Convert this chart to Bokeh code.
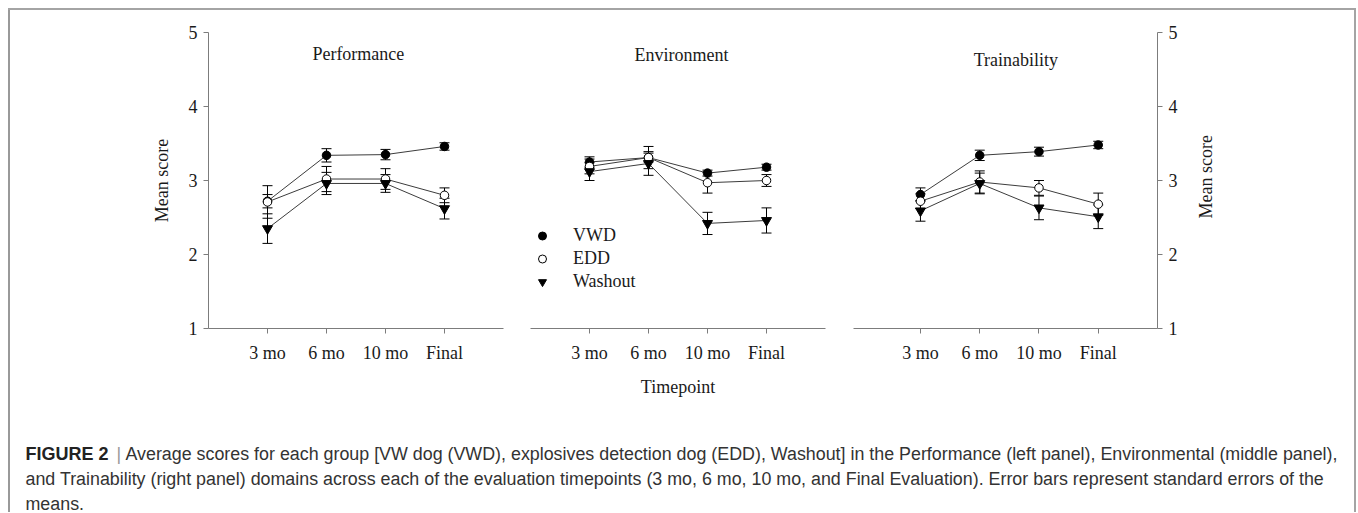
import math
from bokeh.plotting import figure
from bokeh.models import (ColumnDataSource, Whisker, TeeHead, Range1d, FixedTicker,
                          Label, Legend, LegendItem)
from bokeh.layouts import row, column
from bokeh.embed import file_html
from bokeh.resources import INLINE

# ---------------- data ----------------
timepoints = ["3 mo", "6 mo", "10 mo", "Final"]
tick_pos = [1, 2, 3, 4]
y_ticks = [1, 2, 3, 4, 5]
groups = ["VWD", "EDD", "Washout"]
panel_titles = ["Performance", "Environment", "Trainability"]

perf_vwd = [2.72, 3.34, 3.35, 3.46]
perf_vwd_se = [0.09, 0.09, 0.07, 0.05]
perf_edd = [2.71, 3.02, 3.02, 2.80]
perf_edd_se = [0.22, 0.17, 0.14, 0.10]
perf_wash = [2.35, 2.96, 2.96, 2.62]
perf_wash_se = [0.20, 0.15, 0.12, 0.14]

env_vwd = [3.25, 3.31, 3.10, 3.18]
env_vwd_se = [0.07, 0.06, 0.04, 0.04]
env_edd = [3.19, 3.31, 2.97, 3.00]
env_edd_se = [0.10, 0.15, 0.14, 0.08]
env_wash = [3.12, 3.23, 2.42, 2.46]
env_wash_se = [0.12, 0.16, 0.15, 0.17]

train_vwd = [2.81, 3.34, 3.39, 3.48]
train_vwd_se = [0.09, 0.07, 0.06, 0.05]
train_edd = [2.72, 2.98, 2.90, 2.68]
train_edd_se = [0.10, 0.15, 0.10, 0.15]
train_wash = [2.59, 2.96, 2.63, 2.51]
train_wash_se = [0.14, 0.14, 0.16, 0.16]

y_label = "Mean score"
x_label = "Timepoint"

cap_bold = "FIGURE 2"
cap_bar = "|"
cap_line1 = ("Average scores for each group [VW dog (VWD), explosives detection dog (EDD), "
             "Washout] in the Performance (left panel), Environmental (middle panel),")
cap_line2 = ("and Trainability (right panel) domains across each of the evaluation timepoints "
             "(3 mo, 6 mo, 10 mo, and Final Evaluation). Error bars represent standard errors of the")
cap_line3 = "means."

# ---------------- style ----------------
SERIF = "Liberation Serif"
SANS = "Liberation Sans"
AX = "#7c7c7c"
TXT = "#1a1a1a"
LINE = "#3c3c3c"
FS = "18px"
ROW_H = 400


def series(p, vals, se, kind):
    src = ColumnDataSource(dict(x=tick_pos, y=vals,
                                upper=[v + s for v, s in zip(vals, se)],
                                lower=[v - s for v, s in zip(vals, se)]))
    p.line("x", "y", source=src, line_color=LINE, line_width=1)
    w = Whisker(base="x", upper="upper", lower="lower", source=src,
                line_color="black", line_width=1, level="underlay",
                upper_head=TeeHead(size=10, line_color="black", line_width=1),
                lower_head=TeeHead(size=10, line_color="black", line_width=1))
    p.add_layout(w)
    if kind == "VWD":
        r = p.scatter("x", "y", source=src, marker="circle", size=8.5,
                      fill_color="black", line_color="black")
    elif kind == "EDD":
        r = p.scatter("x", "y", source=src, marker="circle", size=8.5,
                      fill_color="white", line_color="black", line_width=1)
    else:
        r = p.scatter("x", "y", source=src, marker="inverted_triangle", size=10,
                      fill_color="black", line_color="black")
    return r


def make_panel(title, tx, ty, data, width, mbl, mbr, x_start, yloc, xlab=None, ylab=True):
    p = figure(width=width, height=ROW_H, x_range=Range1d(x_start, 5), y_range=Range1d(1, 5),
               output_backend="svg", toolbar_location=None, y_axis_location=yloc,
               min_border_left=mbl, min_border_right=mbr, min_border_top=32,
               min_border_bottom=72, border_fill_color=None, background_fill_color=None,
               outline_line_color=None)
    p.grid.visible = False
    p.xaxis.ticker = FixedTicker(ticks=tick_pos)
    p.xaxis.major_label_overrides = {t: lab for t, lab in zip(tick_pos, timepoints)}
    p.xaxis.major_label_standoff = 9
    if xlab:
        p.xaxis.axis_label = xlab
        p.xaxis.axis_label_standoff = 11
    if yloc is not None:
        p.yaxis.ticker = FixedTicker(ticks=y_ticks)
        p.yaxis.major_label_standoff = 6
        if ylab:
            p.yaxis.axis_label = y_label
            p.yaxis.axis_label_standoff = 14
    for ax in p.axis:
        ax.axis_line_color = AX
        ax.axis_line_width = 1
        ax.major_tick_line_color = AX
        ax.major_tick_out = 5
        ax.major_tick_in = 0
        ax.minor_tick_line_color = None
        ax.major_label_text_font = SERIF
        ax.major_label_text_font_size = FS
        ax.major_label_text_color = TXT
        ax.axis_label_text_font = SERIF
        ax.axis_label_text_font_size = FS
        ax.axis_label_text_font_style = "normal"
        ax.axis_label_text_color = TXT
    rends = []
    for vals, se, g in data:
        rends.append(series(p, vals, se, g))
    p.add_layout(Label(x=tx, y=ty, text=title, text_font=SERIF, text_font_size=FS,
                       text_color=TXT, text_align="center", text_baseline="alphabetic"))
    return p, rends


p1, _ = make_panel(panel_titles[0], 2.54, 4.716,
                   [(perf_vwd, perf_vwd_se, "VWD"), (perf_edd, perf_edd_se, "EDD"),
                    (perf_wash, perf_wash_se, "Washout")],
                   518, 208, 15, 0, "left")
p2, r2 = make_panel(panel_titles[1], 2.56, 4.69,
                    [(env_vwd, env_vwd_se, "VWD"), (env_edd, env_edd_se, "EDD"),
                     (env_wash, env_wash_se, "Washout")],
                    325, 12, 18, 0, None, xlab=x_label)
p3, _ = make_panel(panel_titles[2], 2.61, 4.63,
                   [(train_vwd, train_vwd_se, "VWD"), (train_edd, train_edd_se, "EDD"),
                    (train_wash, train_wash_se, "Washout")],
                   340, 10, 26, -0.13, "right", ylab=False)

# narrow strip carrying the right-hand axis title (reads bottom-to-top like the left one)
STRIP_W = 1356 - 518 - 325 - 340
p4 = figure(width=STRIP_W, height=ROW_H, x_range=Range1d(0, STRIP_W), y_range=Range1d(ROW_H, 0),
            output_backend="svg", toolbar_location=None, x_axis_location=None,
            y_axis_location=None, min_border=0, border_fill_color=None,
            background_fill_color=None, outline_line_color=None)
p4.grid.visible = False
p4.add_layout(Label(x=22, y=195, text=y_label, angle=math.pi / 2, angle_units="rad",
                    text_font=SERIF, text_font_size=FS, text_color=TXT,
                    text_align="center", text_baseline="middle"))

legend = Legend(items=[LegendItem(label=g, renderers=[r]) for g, r in zip(groups, r2)],
                location=(2, 35), orientation="vertical", border_line_color=None,
                background_fill_alpha=0, label_text_font=SERIF, label_text_font_size=FS,
                label_text_color=TXT, glyph_width=20, glyph_height=23, label_height=23,
                spacing=0, padding=0, margin=0, label_standoff=21)
p2.add_layout(legend, "center")

# ---------------- caption ----------------
CAP_W = 1356
CAP_H = 112
cap = figure(width=CAP_W, height=CAP_H, x_range=Range1d(0, CAP_W), y_range=Range1d(CAP_H, 0),
             output_backend="svg", toolbar_location=None, x_axis_location=None,
             y_axis_location=None, min_border=0, border_fill_color=None,
             background_fill_color=None, outline_line_color=None)
cap.grid.visible = False
CAP_FS = "17.85px"
cap_style = dict(text_font=SANS, text_font_size=CAP_FS, text_color="#333333",
                 text_baseline="alphabetic")
cap.add_layout(Label(x=25, y=53, text=cap_bold, text_font=SANS, text_font_size="18px",
                     text_font_style="bold", text_color="#222222", text_baseline="alphabetic"))
cap.add_layout(Label(x=116, y=53, text=cap_bar, text_font=SANS, text_font_size=CAP_FS,
                     text_color="#9a9a9a", text_baseline="alphabetic"))
cap.add_layout(Label(x=125, y=53, text=cap_line1, **cap_style))
cap.add_layout(Label(x=25, y=78, text=cap_line2, **cap_style))
cap.add_layout(Label(x=25, y=103, text=cap_line3, **cap_style))

frame_css = {
    "background-image": ("linear-gradient(#a4a4a4, #a4a4a4), linear-gradient(#999999, #999999), "
                         "linear-gradient(#a4a4a4, #a4a4a4)"),
    "background-size": "calc(100% - 10px) 2px, 2px calc(100% - 8px), 2px calc(100% - 8px)",
    "background-position": "8px 8px, 8px 8px, 1354px 8px",
    "background-repeat": "no-repeat",
}
layout = column(row(p1, p2, p3, p4), cap, styles=frame_css)

open("out.html", "w").write(file_html(layout, INLINE))
